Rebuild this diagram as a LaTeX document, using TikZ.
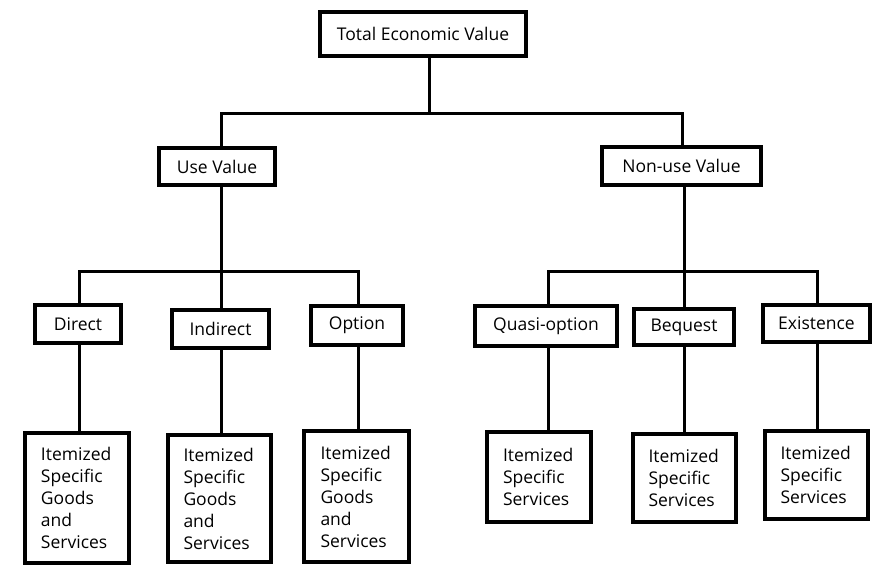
\documentclass[tikz,border=0pt]{standalone}
\usepackage{fontspec}
\setmainfont{Open Sans}
\usetikzlibrary{positioning, calc}

\begin{document}
\begin{tikzpicture}
    [
        x=1pt, y=-1pt,
        value_box/.style={rectangle, draw=black, fill=white, line width=4pt, inner sep=0pt, font=\fontsize{17.5}{22}\selectfont},
        goods_box/.style={value_box, align=left, text width=72pt},
        link/.style={draw=black, line width=3pt},
    ]

  \useasboundingbox (0,0) rectangle (879,566);

  % top level
  \node[value_box, minimum width=206pt, minimum height=44pt] (A) at (423,34) {Total Economic Value};
  \node[value_box, minimum width=116pt, minimum height=37pt] (B) at (217,166.5) {Use Value};
  \node[value_box, minimum width=159pt, minimum height=38pt] (C) at (681.5,166) {Non-use Value};

  % kinds of value
  \node[value_box, minimum width=86pt, minimum height=38pt] (D) at (78,324) {Direct};
  \node[value_box, minimum width=97pt, minimum height=38pt] (E) at (220.5,329) {Indirect};
  \node[value_box, minimum width=92pt, minimum height=39pt] (F) at (357,325.5) {Option};
  \node[value_box, minimum width=142pt, minimum height=40pt] (G) at (546,326) {Quasi-option};
  \node[value_box, minimum width=100pt, minimum height=36pt] (H) at (684,327) {Bequest};
  \node[value_box, minimum width=107pt, minimum height=37pt] (I) at (816.5,323.5) {Existence};

  % goods and services
  \node[goods_box, minimum width=104pt, minimum height=130pt] (J) at (77,498) {Itemized\\Specific\\Goods\\and\\Services};
  \node[goods_box, minimum width=103pt, minimum height=127pt] (K) at (219.5,498.5) {Itemized\\Specific\\Goods\\and\\Services};
  \node[goods_box, minimum width=105pt, minimum height=131pt] (L) at (356.5,496.5) {Itemized\\Specific\\Goods\\and\\Services};
  \node[goods_box, minimum width=104pt, minimum height=90pt] (M) at (539,477) {Itemized\\Specific\\Services};
  \node[goods_box, minimum width=103pt, minimum height=88pt] (N) at (684.5,478) {Itemized\\Specific\\Services};
  \node[goods_box, minimum width=103pt, minimum height=88pt] (O) at (816.5,475) {Itemized\\Specific\\Services};

  % junctions
  \coordinate (tb) at (429,113);
  \coordinate (tl) at (221,113);
  \coordinate (tr) at (682,113);
  \coordinate (ul) at (79,271);
  \coordinate (um) at (221,271);
  \coordinate (ur) at (358,271);
  \coordinate (nl) at (548,271);
  \coordinate (nm) at (684,271);
  \coordinate (nr) at (817,271);

  \draw[link] (A.south -| tb) -- (tb);
  \draw[link] (B.north -| tl) |- (tr) -- (C.north -| tr);
  \draw[link] (D.north -| ul) |- (ur) -- (F.north -| ur);
  \draw[link] (B.south -| um) -- (E.north -| um);
  \draw[link] (G.north -| nl) |- (nr) -- (I.north -| nr);
  \draw[link] (C.south -| nm) -- (H.north -| nm);

  \draw[link] (D.south -| ul) -- (J.north -| ul);
  \draw[link] (E.south -| um) -- (K.north -| um);
  \draw[link] (F.south -| ur) -- (L.north -| ur);
  \draw[link] (G.south -| nl) -- (M.north -| nl);
  \draw[link] (H.south -| nm) -- (N.north -| nm);
  \draw[link] (I.south -| nr) -- (O.north -| nr);
\end{tikzpicture}
\end{document}
